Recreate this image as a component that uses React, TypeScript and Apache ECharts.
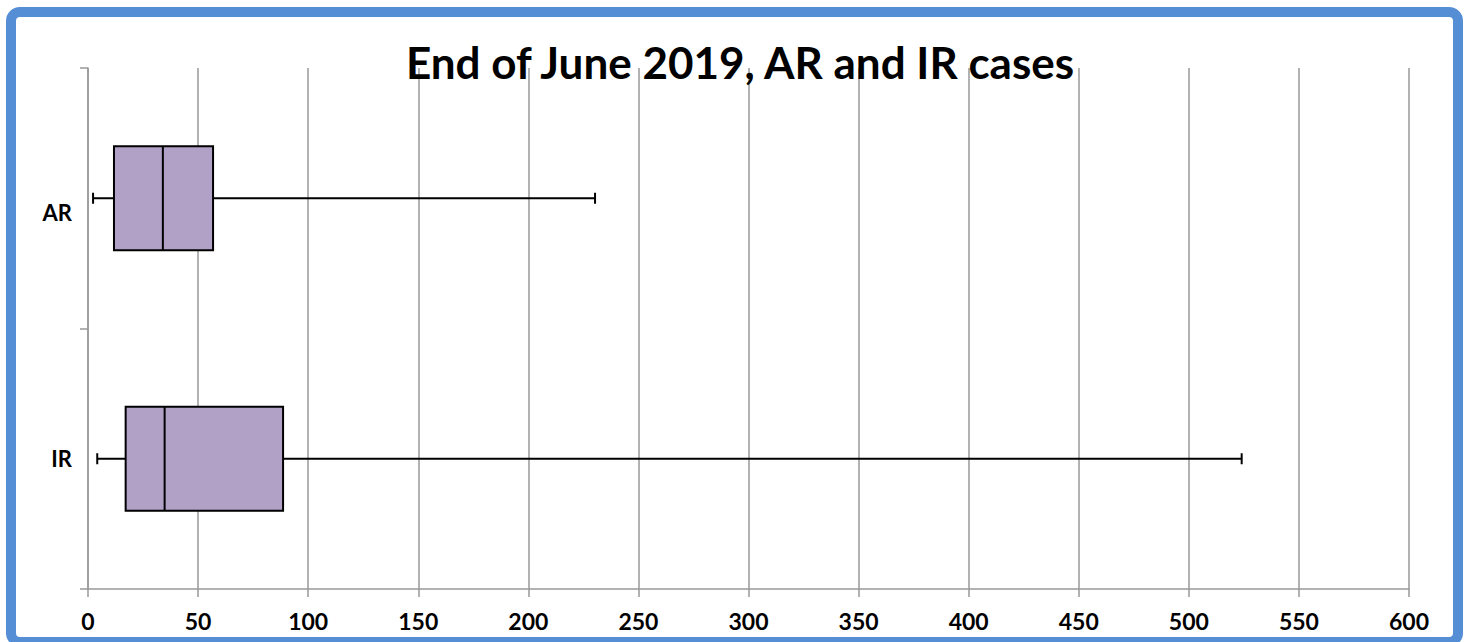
import React, { useEffect, useRef } from "react";
import * as echarts from "echarts";

const categories = ["AR", "IR"];
const mins = [2.3, 4.2];
const q1s = [11.8, 17.1];
const medians = [34, 34.8];
const q3s = [56.8, 88.6];
const maxs = [230.3, 524];
const xTicks = { min: 0, max: 600, interval: 50 };
const titleText = "End of June 2019, AR and IR cases";

const FONT = "Lato";

export default function App() {
  const ref = useRef<HTMLDivElement>(null);
  useEffect(() => {
    if (!ref.current) return;
    const chart = echarts.init(ref.current, null, { renderer: "svg" });
    const data = categories.map((c, i) => [i, mins[i], q1s[i], medians[i], q3s[i], maxs[i]]);
    const gray = "#999999";
    chart.setOption({
      animation: false,
      backgroundColor: "#ffffff",
      title: {
        text: titleText,
        left: 735,
        textAlign: "center",
        top: 35,
        textStyle: { fontFamily: FONT, fontWeight: "bold", fontSize: 44, color: "#000" },
        z: 10,
      },
      grid: { left: 88, right: 56, top: 68, bottom: 53, containLabel: false },
      xAxis: {
        type: "value",
        min: xTicks.min,
        max: xTicks.max,
        interval: xTicks.interval,
        axisLine: { show: true, lineStyle: { color: gray, width: 1.5 } },
        axisTick: { show: true, length: 8, lineStyle: { color: gray, width: 1.5 } },
        splitLine: { show: true, lineStyle: { color: gray, width: 1.5 } },
        axisLabel: {
          margin: 20,
          fontFamily: FONT,
          fontWeight: "bold",
          fontSize: 23,
          color: "#000",
        },
      },
      yAxis: {
        type: "category",
        data: categories,
        inverse: true,
        axisLine: { show: true, lineStyle: { color: gray, width: 1.5 } },
        axisTick: { show: true, length: 8, lineStyle: { color: gray, width: 1.5 } },
        splitLine: { show: false },
        axisLabel: {
          margin: 16,
          color: "#000",
          formatter: (v: string) => (v === "AR" ? "{a|" + v + "}" : "{b|" + v + "}"),
          rich: {
            a: { fontFamily: FONT, fontWeight: "bold", fontSize: 22, color: "#000", padding: [28, 0, 0, 0] },
            b: { fontFamily: FONT, fontWeight: "bold", fontSize: 22, color: "#000" },
          },
        },
      },
      graphic: [
        {
          type: "rect",
          shape: { x: 11, y: 12, width: 1447, height: 630, r: 9 },
          style: { fill: "none", stroke: "#558ED5", lineWidth: 10 },
          silent: true,
          z: 100,
        },
      ],
      series: [
        {
          type: "custom",
          data,
          encode: { x: [1, 2, 3, 4, 5], y: 0 },
          renderItem: (params: any, api: any) => {
            const cat = api.value(0);
            const pMin = api.coord([api.value(1), cat]);
            const pQ1 = api.coord([api.value(2), cat]);
            const pMed = api.coord([api.value(3), cat]);
            const pQ3 = api.coord([api.value(4), cat]);
            const pMax = api.coord([api.value(5), cat]);
            const band = api.size([0, 1])[1];
            const h = band * 0.4;
            const cap = 11;
            const cy = pMed[1];
            const lineStyle = { stroke: "#000", lineWidth: 2 };
            return {
              type: "group",
              children: [
                { type: "line", shape: { x1: pMin[0], y1: cy, x2: pQ1[0], y2: cy }, style: lineStyle },
                { type: "line", shape: { x1: pQ3[0], y1: cy, x2: pMax[0], y2: cy }, style: lineStyle },
                { type: "line", shape: { x1: pMin[0], y1: cy - cap / 2, x2: pMin[0], y2: cy + cap / 2 }, style: lineStyle },
                { type: "line", shape: { x1: pMax[0], y1: cy - cap / 2, x2: pMax[0], y2: cy + cap / 2 }, style: lineStyle },
                {
                  type: "rect",
                  shape: { x: pQ1[0], y: cy - h / 2, width: pQ3[0] - pQ1[0], height: h },
                  style: { fill: "#B2A1C7", stroke: "#000", lineWidth: 2 },
                },
                { type: "line", shape: { x1: pMed[0], y1: cy - h / 2, x2: pMed[0], y2: cy + h / 2 }, style: lineStyle },
              ],
            };
          },
        },
      ],
    });
    return () => chart.dispose();
  }, []);
  return (
    <div style={{ position: "fixed", left: 0, top: 0, width: 1465, height: 642, background: "#fff" }}>
      <div ref={ref} style={{ width: 1465, height: 642 }} />
    </div>
  );
}
